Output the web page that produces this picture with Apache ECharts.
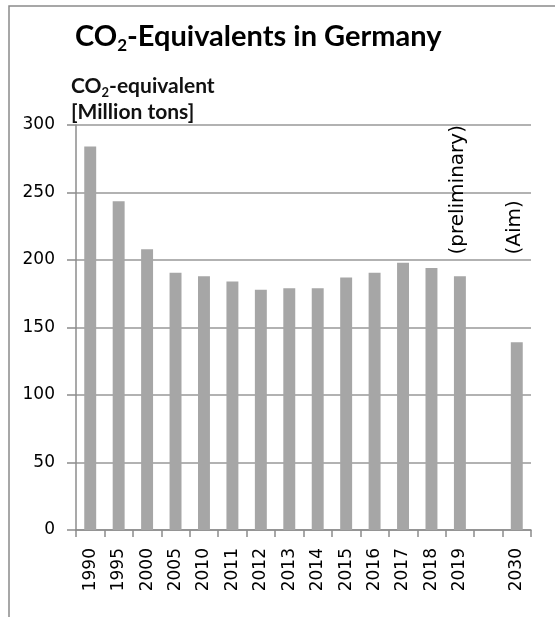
<!DOCTYPE html>
<html>
<head>
<meta charset="utf-8">
<script src="https://cdn.jsdelivr.net/npm/echarts@6/dist/echarts.min.js"></script>
<style>
html, body { margin: 0; padding: 0; background: #fff; }
#chart { width: 555px; height: 617px; }
</style>
</head>
<body>
<div id="chart"></div>
<script>
// categories (empty slot between 2019 and 2030)
const years = ['1990', '1995', '2000', '2005', '2010', '2011', '2012', '2013', '2014',
  '2015', '2016', '2017', '2018', '2019', '', '2030']
// CO2-equivalent, million tons
const emissions = [284, 243.5, 208, 190.5, 188, 184, 178, 179, 179,
  187, 190.5, 198, 194, 188, '-', 139]
// rotated notes above some bars
const noteYears = ['2019', '2030']
const noteTexts = ['(preliminary)', '(Aim)']
const noteLevel = 204
const yTicks = { min: 0, max: 300, interval: 50 }

const chart = echarts.init(document.getElementById('chart'))

const titleFont = 'Lato, "Open Sans", sans-serif'
const tickFont = '"DejaVu Sans", Verdana, sans-serif'

const option = {
  animation: false,
  graphic: [
    {
      type: 'rect',
      shape: { x: 9, y: 6, width: 800, height: 800 },
      style: { fill: 'none', stroke: '#8a8a8a', lineWidth: 1.5 }
    }
  ],
  title: [
    {
      text: '{b|CO}{s|2}{b|-Equivalents in Germany}',
      left: 70,
      top: 15,
      textStyle: {
        rich: {
          b: { fontFamily: titleFont, fontWeight: 'bold', fontSize: 29, color: '#000', lineHeight: 34 },
          s: { fontFamily: titleFont, fontWeight: 'bold', fontSize: 17, color: '#000', lineHeight: 17, verticalAlign: 'bottom' }
        }
      }
    },
    {
      text: '{b|CO}{s|2}{b|-equivalent}\n{b|[Million tons]}',
      left: 66,
      top: 68,
      textStyle: {
        rich: {
          b: { fontFamily: titleFont, fontWeight: 'bold', fontSize: 21, color: '#111', lineHeight: 26 },
          s: { fontFamily: titleFont, fontWeight: 'bold', fontSize: 13, color: '#111', lineHeight: 13, verticalAlign: 'bottom' }
        }
      }
    }
  ],
  grid: { left: 76, right: 24, top: 125, bottom: 87 },
  xAxis: {
    type: 'category',
    data: years,
    axisLine: { lineStyle: { color: '#8c8c8c', width: 1.5 } },
    axisTick: { show: true, length: 7, lineStyle: { color: '#8c8c8c', width: 1.5 } },
    axisLabel: {
      rotate: 90,
      margin: 18,
      interval: 0,
      fontFamily: tickFont,
      fontSize: 17,
      color: '#000'
    }
  },
  yAxis: {
    type: 'value',
    min: yTicks.min,
    max: yTicks.max,
    interval: yTicks.interval,
    axisLine: { show: true, lineStyle: { color: '#8c8c8c', width: 1.5 } },
    axisTick: { show: true, length: 9, lineStyle: { color: '#8c8c8c', width: 1.5 } },
    axisLabel: {
      margin: 21,
      fontFamily: tickFont,
      fontSize: 17,
      color: '#000'
    },
    splitLine: { lineStyle: { color: '#999', width: 1.5 } }
  },
  series: [
    {
      type: 'bar',
      data: emissions,
      barWidth: '42%',
      itemStyle: { color: '#a6a6a6' },
      markPoint: {
        symbol: 'circle',
        symbolSize: 0,
        label: {
          show: true,
          position: 'inside',
          rotate: 90,
          align: 'left',
          verticalAlign: 'middle',
          offset: [0, -2],
          fontFamily: tickFont,
          fontSize: 20,
          color: '#000',
          formatter: p => p.name
        },
        data: noteYears.map((y, i) => ({ name: noteTexts[i], coord: [y, noteLevel] }))
      }
    }
  ]
}

chart.setOption(option)
</script>
</body>
</html>
